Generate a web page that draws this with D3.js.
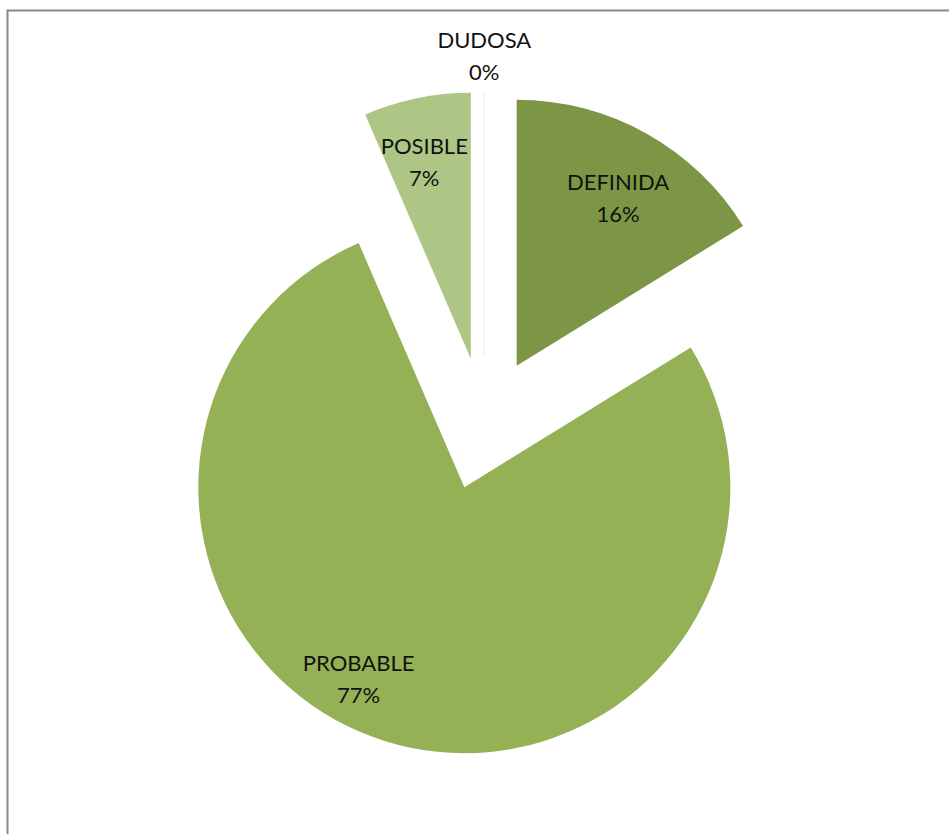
<!DOCTYPE html>
<html>
<head>
<meta charset="utf-8">
<script src="https://cdn.jsdelivr.net/npm/d3@7"></script>
<style>
  html, body { margin: 0; padding: 0; background: #fff; }
  svg { display: block; }
  text { font-family: Lato, "Open Sans", sans-serif; fill: #111; }
</style>
</head>
<body>
<svg id="chart" width="949" height="834"></svg>
<script>
// Diagnostic categories and their shares (%)
const categories = ["DEFINIDA", "PROBABLE", "POSIBLE", "DUDOSA"];
const shares = [16.2, 77.3, 6.5, 0];
const colors = ["#7c9646", "#94b156", "#aec685", "#eef2e6"];

// Where each two-line label sits, relative to its own slice apex:
// angle in degrees clockwise from 12 o'clock, distance as a fraction of the radius
const labelAngle = [31, 209, 346.7, 0];
const labelDist = [0.74, 0.82, 0.76, 1.135];

const W = 949, H = 834;
const cx = 484.3, cy = 423.8, R = 266;
const explode = 0.25 * R;

const svg = d3.select("#chart");

// outer frame (its right and bottom sides fall outside the view)
svg.append("rect")
  .attr("x", 7.5).attr("y", 10.5)
  .attr("width", W + 20).attr("height", H + 20)
  .attr("fill", "#fff")
  .attr("stroke", "#898989")
  .attr("stroke-width", 2);

const data = categories.map((c, i) => ({ name: c, value: shares[i], i }));
const total = d3.sum(shares);

const pie = d3.pie().value(d => d.value).sort(null);
const arcs = pie(data);
const arc = d3.arc().innerRadius(0).outerRadius(R);

const g = svg.append("g").attr("transform", `translate(${cx},${cy})`);

function sliceOffset(a) {
  const mid = (a.startAngle + a.endAngle) / 2;
  return [Math.sin(mid) * explode, -Math.cos(mid) * explode];
}

const slices = g.selectAll("g.slice")
  .data(arcs)
  .join("g")
  .attr("class", "slice")
  .attr("transform", a => {
    const [dx, dy] = sliceOffset(a);
    return `translate(${dx},${dy})`;
  });

slices.append("path")
  .attr("d", arc)
  .attr("fill", a => colors[a.index])
  .attr("stroke", a => a.value === 0 ? colors[a.index] : "none")
  .attr("stroke-width", 1);

const fs = 22, pitch = 32;
const labels = slices.append("text")
  .attr("text-anchor", "middle")
  .attr("font-size", fs)
  .attr("transform", a => {
    const ang = labelAngle[a.index] * Math.PI / 180;
    const d = labelDist[a.index] * R;
    return `translate(${Math.sin(ang) * d},${-Math.cos(ang) * d})`;
  });

labels.append("tspan")
  .attr("x", 0).attr("y", -7.5)
  .text(a => a.data.name);
labels.append("tspan")
  .attr("x", 0).attr("y", -7.5 + pitch)
  .text(a => Math.round(a.value * 100 / total) + "%");
</script>
</body>
</html>
